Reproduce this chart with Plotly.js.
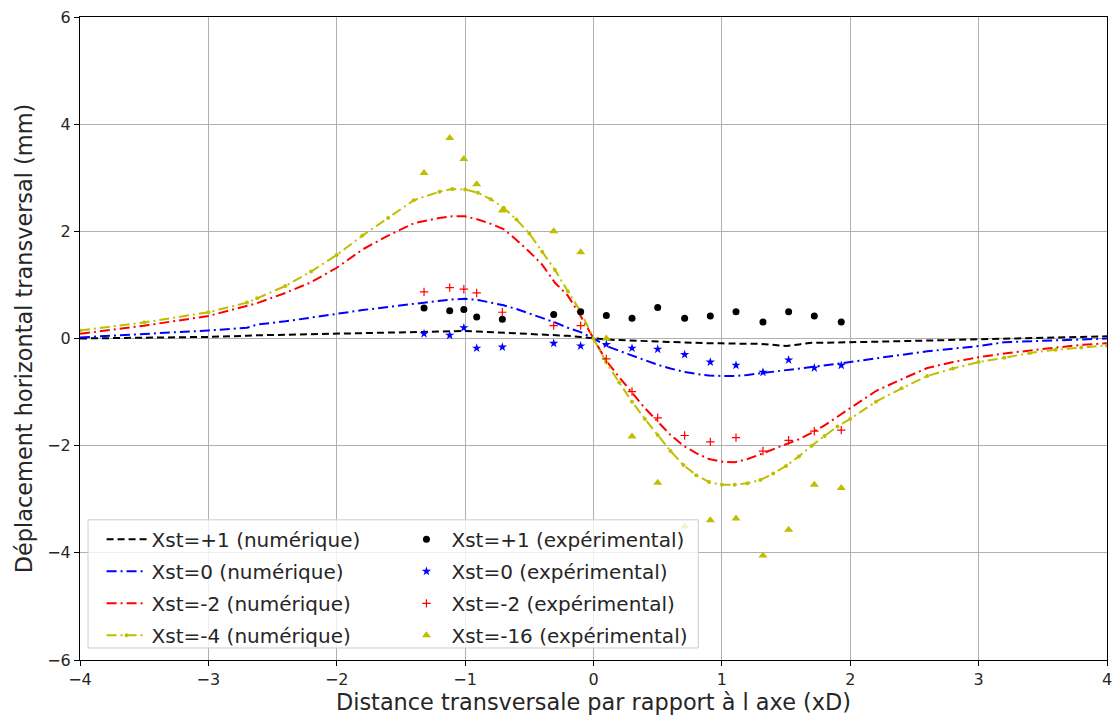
<!DOCTYPE html>
<html>
<head>
<meta charset="utf-8">
<script src="https://cdn.plot.ly/plotly-3.0.1.min.js"></script>
<style>html,body{margin:0;padding:0;background:#fff;}#chart{width:1115px;height:716px;}</style>
</head>
<body>
<div id="chart"></div>
<script>
// Numerical curves: shared x positions (xD)
const xNum = [-4, -3.5, -3, -2.7, -2.62, -2.4, -2.2, -2, -1.8, -1.6, -1.4, -1.2, -1.1, -1.0, -0.9, -0.8, -0.7, -0.6, -0.5, -0.4, -0.3, -0.2, -0.1, 0,
  0.1, 0.2, 0.3, 0.4, 0.5, 0.6, 0.7, 0.8, 0.9, 1.0, 1.1, 1.2, 1.3, 1.4, 1.5, 1.6, 1.7, 1.8, 1.9, 2.0, 2.2, 2.4, 2.6, 2.8, 3.0, 3.2, 3.4, 3.6, 3.8, 4.0];

const numP1 = [0.0, 0.01, 0.03, 0.05, 0.06, 0.07, 0.08, 0.09, 0.10, 0.11, 0.12, 0.13, 0.14, 0.14, 0.13, 0.12, 0.11, 0.10, 0.09, 0.08, 0.07, 0.05, 0.03, 0.0,
  -0.02, -0.03, -0.04, -0.05, -0.06, -0.07, -0.08, -0.08, -0.09, -0.09, -0.10, -0.10, -0.10, -0.12, -0.14, -0.11, -0.08, -0.08, -0.07, -0.07, -0.06, -0.05, -0.04, -0.03, -0.01, 0.0, 0.01, 0.02, 0.03, 0.04];

const num0 = [0.02, 0.08, 0.15, 0.20, 0.26, 0.32, 0.39, 0.47, 0.53, 0.59, 0.65, 0.71, 0.73, 0.74, 0.72, 0.67, 0.62, 0.55, 0.47, 0.39, 0.30, 0.20, 0.12, 0.0,
  -0.14, -0.23, -0.32, -0.41, -0.49, -0.56, -0.62, -0.66, -0.69, -0.70, -0.70, -0.68, -0.65, -0.63, -0.60, -0.57, -0.54, -0.51, -0.48, -0.44, -0.37, -0.30, -0.24, -0.19, -0.14, -0.07, -0.05, -0.03, -0.02, 0.0];

const numM2 = [0.09, 0.24, 0.42, 0.60, 0.66, 0.85, 1.05, 1.32, 1.66, 1.92, 2.15, 2.25, 2.28, 2.28, 2.22, 2.14, 2.04, 1.84, 1.62, 1.38, 1.04, 0.80, 0.42, 0.0,
  -0.42, -0.72, -1.02, -1.30, -1.55, -1.80, -2.00, -2.14, -2.25, -2.30, -2.31, -2.25, -2.16, -2.07, -1.98, -1.88, -1.76, -1.62, -1.46, -1.30, -0.98, -0.76, -0.55, -0.44, -0.35, -0.28, -0.22, -0.17, -0.12, -0.09];

const numM4 = [0.15, 0.30, 0.49, 0.67, 0.75, 0.98, 1.25, 1.56, 1.92, 2.25, 2.58, 2.74, 2.79, 2.78, 2.72, 2.60, 2.44, 2.22, 1.96, 1.62, 1.28, 0.88, 0.50, 0.0,
  -0.45, -0.82, -1.18, -1.50, -1.80, -2.10, -2.36, -2.55, -2.68, -2.73, -2.73, -2.70, -2.64, -2.52, -2.38, -2.20, -2.00, -1.82, -1.64, -1.50, -1.18, -0.93, -0.70, -0.56, -0.44, -0.36, -0.27, -0.21, -0.17, -0.13];

// Experimental points
const xExp = [-1.32, -1.12, -1.01, -0.91, -0.71, -0.31, -0.10, 0.10, 0.30, 0.50, 0.71, 0.91, 1.11, 1.32, 1.52, 1.72, 1.93];
const expP1 = [0.57, 0.52, 0.54, 0.40, 0.36, 0.45, 0.50, 0.43, 0.38, 0.58, 0.38, 0.42, 0.50, 0.31, 0.50, 0.42, 0.31];
const exp0 = [0.09, 0.06, 0.20, -0.18, -0.16, -0.09, -0.14, -0.11, -0.18, -0.20, -0.30, -0.44, -0.50, -0.63, -0.40, -0.55, -0.50];
const expM2 = [0.87, 0.95, 0.92, 0.85, 0.49, 0.24, 0.24, -0.38, -0.99, -1.48, -1.81, -1.93, -1.85, -2.10, -1.90, -1.73, -1.71];
const expM16 = [3.09, 3.74, 3.35, 2.88, 2.39, 2.00, 1.61, 0.00, -1.83, -2.69, -3.51, -3.39, -3.36, -4.05, -3.57, -2.73, -2.79];

const labelsNum = ['Xst=+1 (numérique)', 'Xst=0 (numérique)', 'Xst=-2 (numérique)', 'Xst=-4 (numérique)'];
const labelsExp = ['Xst=+1 (expérimental)', 'Xst=0 (expérimental)', 'Xst=-2 (expérimental)', 'Xst=-16 (expérimental)'];

const colK = '#000000', colB = '#0000ff', colR = '#ff0000', colY = '#bfbf00';
const dashDot = '10px,4px,2px,4px';

const traces = [
  {x: xNum, y: numP1, name: labelsNum[0], mode: 'lines', line: {color: colK, width: 2, dash: '7px,4px'}, legend: 'legend', legendgroup: 'a1'},
  {x: xNum, y: num0, name: labelsNum[1], mode: 'lines', line: {color: colB, width: 2, dash: dashDot}, legend: 'legend', legendgroup: 'a2'},
  {x: xNum, y: numM2, name: labelsNum[2], mode: 'lines', line: {color: colR, width: 2, dash: dashDot}, legend: 'legend', legendgroup: 'a3'},
  {x: xNum, y: numM4, name: labelsNum[3], mode: 'lines+markers', line: {color: colY, width: 2, dash: dashDot}, marker: {color: colY, size: 4}, legend: 'legend', legendgroup: 'a4'},
  {x: xExp, y: expP1, name: labelsExp[0], mode: 'markers', marker: {color: colK, size: 7, symbol: 'circle'}, legend: 'legend2', legendgroup: 'b1'},
  {x: xExp, y: exp0, name: labelsExp[1], mode: 'markers', marker: {color: colB, size: 7, symbol: 'star'}, legend: 'legend2', legendgroup: 'b2'},
  {x: xExp, y: expM2, name: labelsExp[2], mode: 'markers', marker: {color: colR, size: 6, symbol: 'cross-thin-open', line: {color: colR, width: 1.2}}, legend: 'legend2', legendgroup: 'b3'},
  {x: xExp, y: expM16, name: labelsExp[3], mode: 'markers', marker: {color: colY, size: 8, symbol: 'triangle-up'}, legend: 'legend2', legendgroup: 'b4'}
];

const font = {family: 'DejaVu Sans', color: '#262626'};
const legendBase = {
  bgcolor: 'rgba(0,0,0,0)', borderwidth: 0, tracegroupgap: 3,
  font: {family: 'DejaVu Sans', size: 20, color: '#262626'},
  xanchor: 'left', yanchor: 'top', y: 0.218, itemwidth: 40
};

const layout = {
  width: 1115, height: 716,
  margin: {l: 80, r: 8, t: 17, b: 56},
  paper_bgcolor: '#ffffff', plot_bgcolor: '#ffffff',
  font: font,
  showlegend: true,
  xaxis: {
    range: [-4, 4], tickvals: [-4, -3, -2, -1, 0, 1, 2, 3, 4], ticktext: ['−4', '−3', '−2', '−1', '0', '1', '2', '3', '4'],
    showgrid: true, gridcolor: '#b0b0b0', gridwidth: 1, zeroline: false,
    showline: true, linecolor: '#000', linewidth: 1, mirror: true,
    ticks: 'outside', ticklen: 5, tickcolor: '#000', tickfont: {family: 'DejaVu Sans', size: 16, color: '#262626'},
    title: {text: 'Distance transversale par rapport à l axe (xD)', font: {family: 'DejaVu Sans', size: 22.4, color: '#262626'}, standoff: 5}
  },
  yaxis: {
    range: [-6, 6], tickvals: [-6, -4, -2, 0, 2, 4, 6], ticktext: ['−6', '−4', '−2', '0', '2', '4', '6'],
    showgrid: true, gridcolor: '#b0b0b0', gridwidth: 1, zeroline: false,
    showline: true, linecolor: '#000', linewidth: 1, mirror: true,
    ticks: 'outside', ticklen: 5, tickcolor: '#000', tickfont: {family: 'DejaVu Sans', size: 16, color: '#262626'},
    title: {text: 'Déplacement horizontal transversal (mm)', font: {family: 'DejaVu Sans', size: 22.4, color: '#262626'}, standoff: 8}
  },
  legend: Object.assign({}, legendBase, {x: 0.021}),
  legend2: Object.assign({}, legendBase, {x: 0.313}),
  shapes: [{
    type: 'rect', xref: 'paper', yref: 'paper', x0: 0.0078, x1: 0.602, y0: 0.0187, y1: 0.218,
    fillcolor: 'rgba(255,255,255,0.8)', line: {color: '#cccccc', width: 1}, layer: 'above'
  }]
};

Plotly.newPlot('chart', traces, layout, {displayModeBar: false, staticPlot: true});
</script>
</body>
</html>
